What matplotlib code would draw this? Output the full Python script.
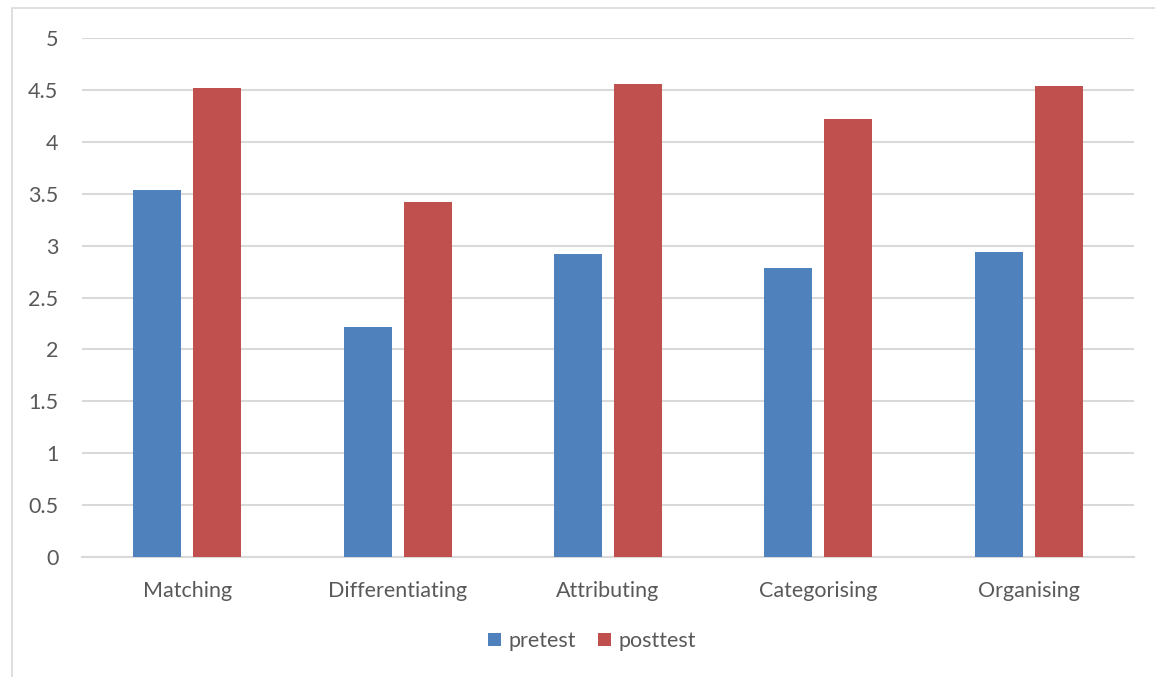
import numpy as np
import matplotlib.pyplot as plt
from matplotlib.patches import Rectangle

plt.rcParams['font.family'] = ['Lato', 'DejaVu Sans']

categories = ['Matching', 'Differentiating', 'Attributing', 'Categorising', 'Organising']
pretest = [3.54, 2.22, 2.92, 2.78, 2.94]
posttest = [4.52, 3.42, 4.56, 4.22, 4.54]
yticks = [0, 0.5, 1, 1.5, 2, 2.5, 3, 3.5, 4, 4.5, 5]

blue = '#4F81BD'
red = '#C0504D'
grid = '#D9D9D9'
txt = '#595959'

fig = plt.figure(figsize=(11.55, 6.77), dpi=100)
# outer chart frame
fig.patches.append(Rectangle((12 / 1155, 0 - 0.01), 1.2, 1 - 8 / 677 + 0.01,
                             transform=fig.transFigure, fill=False,
                             edgecolor=grid, lw=1.2))

ax = fig.add_axes([82 / 1155, 1 - 557 / 677, 1052 / 1155, 519 / 677])
x = np.arange(len(categories))
w = 0.228
off = 0.1426
ax.bar(x - off, pretest, w, color=blue, label='pretest', zorder=3)
ax.bar(x + off, posttest, w, color=red, label='posttest', zorder=3)

ax.set_xlim(-0.5, len(categories) - 0.5)
ax.set_ylim(0, 5)
ax.set_yticks(yticks)
ax.set_yticklabels([f'{v:g}' for v in yticks])
ax.set_xticks(x)
ax.set_xticklabels(categories)
ax.yaxis.grid(True, color=grid, lw=1.5, zorder=0)
for s in ['top', 'right', 'left']:
    ax.spines[s].set_visible(False)
ax.spines['bottom'].set_color(grid)
ax.spines['bottom'].set_linewidth(1.5)
ax.tick_params(axis='both', length=0, colors=txt, labelsize=15.5)
ax.tick_params(axis='y', pad=17)
ax.tick_params(axis='x', pad=17)

leg = ax.legend(loc='center', bbox_to_anchor=(0.485, -0.162), ncol=2,
                frameon=False, fontsize=15.5, handlelength=0.62, handleheight=0.62,
                handletextpad=0.35, columnspacing=1.0)
for t in leg.get_texts():
    t.set_color(txt)

fig.savefig('out.png', dpi=100)
